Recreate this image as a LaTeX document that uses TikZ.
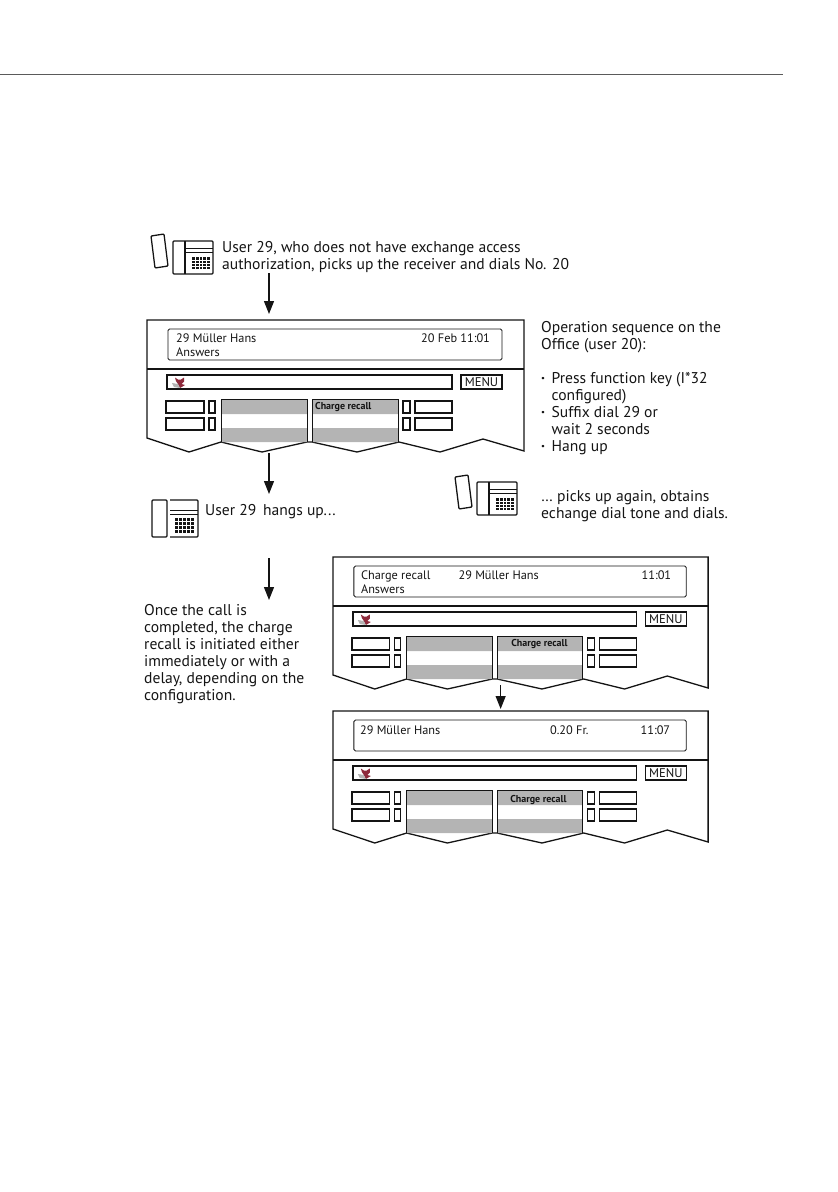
\documentclass[tikz,border=0pt]{standalone}
\usepackage{xcolor}
\usepackage{fontspec}
\setmainfont{PT Sans}
\usetikzlibrary{arrows.meta,positioning}
\definecolor{softgrey}{HTML}{B4B4B4}
\definecolor{inkline}{HTML}{141414}
\definecolor{foxred}{HTML}{8E2A3C}

\tikzset{
    outline/.style={draw=inkline,line width=1.3pt,line join=miter},
    keybox/.style={draw=inkline,line width=1.4pt,fill=white},
    softkey/.style={fill=softgrey},
    arr/.style={-{Triangle[length=13pt,width=10pt]},draw=inkline,line width=1.2pt},
    txt/.style={anchor=north west,inner sep=0pt,align=left,text=inkline,font=\fontsize{15.6}{17}\selectfont},
    disp/.style={anchor=base west,inner sep=0pt,text=inkline,font=\fontsize{12.3}{14}\selectfont},
    softlabel/.style={anchor=base west,inner sep=0pt,text=inkline,font=\fontsize{10}{10}\selectfont\bfseries}
}

% bullet of the key list
\newcommand{\seqdot}{\makebox[10.5pt][l]{\textbf{·}}}

% name, x, y, xscale, texts
\newcommand{\dpanel}[5]{
\begin{scope}[shift={(#2,#3)},xscale=#4]
    \draw[outline] (0,118) -- (0,0) -- (377,0) -- (377,131) -- (336,119) -- (293,132) -- (252,122)
        -- (210,132) -- (165,122) -- (160,122) -- (115,132) -- (74,122) -- (42,132) -- cycle;
    \draw[outline] (0,49) -- (377,49);
    \draw[draw=inkline,line width=.9pt,rounded corners=1.5pt] (21,9) rectangle (355,40);
    \draw[keybox] (20,55) rectangle (305,69);
    \draw[keybox] (314,55) rectangle (355,69);
    \node[inner sep=0pt,text=inkline,font=\fontsize{12.6}{14}\selectfont] (#1-menu) at (334.5,62) {MENU};
    \fill[softkey] (74,79) rectangle (160,94) (74,108) rectangle (160,122);
    \fill[softkey] (165,79) rectangle (251,94) (165,108) rectangle (251,122);
    \draw[inkline,line width=.9pt] (74,122) -- (74,79) -- (160,79) -- (160,122);
    \draw[inkline,line width=.9pt] (165,122) -- (165,79) -- (251,79) -- (251,122);
    \foreach \ky in {81,98} {
        \draw[keybox] (19,\ky) rectangle (57,\ky+12);
        \draw[keybox] (62,\ky) rectangle (68,\ky+12);
        \draw[keybox] (256,\ky) rectangle (263,\ky+12);
        \draw[keybox] (268,\ky) rectangle (305,\ky+12);
    }
    % fox
    \fill[foxred] (28,57.5) -- (31,59.5) -- (34,59.5) -- (37,57.5) -- (37,61.5) -- (34.5,64) -- (38,65) -- (33,68) -- (31,64) -- (29,61) -- cycle;
    \fill[softgrey] (25,63) -- (31,64) -- (33,68) -- (27,67) -- cycle;
    #5
\end{scope}
}

% x, y of the base, with lifted handset
\newcommand{\phonebase}[2]{
\begin{scope}[shift={(#1,#2)}]
    \draw[outline,rounded corners=1pt] (0,0) rectangle (40,33);
    \draw[outline] (12,0) -- (12,33);
    \draw[outline,line width=.9pt] (12,7) -- (40,7) (12,11) -- (40,11);
    \fill[inkline] (19,16) rectangle (37,28);
    \foreach \kx in {22.6,26.2,29.8,33.4} \draw[white,line width=.7pt] (\kx,16) -- (\kx,28);
    \foreach \ky in {19,22,25} \draw[white,line width=.7pt] (19,\ky) -- (37,\ky);
    \draw[outline,rounded corners=1pt] (-22,-5) -- (-9,-7) -- (-5,25) -- (-18,27) -- cycle;
\end{scope}
}

\begin{document}
\begin{tikzpicture}[x=1pt,y=-1pt]
    \useasboundingbox (0,0) rectangle (838,1192);
    \draw[draw=inkline!70,line width=.7pt] (0,74) -- (783,74);

    \phonebase{173}{241}
    \phonebase{477}{482}
    % handset lying on the hook
    \draw[outline,rounded corners=1pt] (152,500) rectangle (167,537);
    \draw[outline,rounded corners=1pt] (170,500) -- (198,500) -- (198,537) -- (170,537);
    \draw[outline,line width=.9pt] (170,510) -- (198,510) (170,514) -- (198,514);
    \fill[inkline] (175,518) rectangle (194,533);
    \foreach \kx in {178.8,182.6,186.4,190.2} \draw[white,line width=.7pt] (\kx,518) -- (\kx,533);
    \foreach \ky in {521.7,525.5,529.2} \draw[white,line width=.7pt] (175,\ky) -- (194,\ky);

    \node[txt] (usertxt) at (222,241) {User 29, who does not have exchange access\\authorization, picks up the receiver and dials No. 20};
    \node[txt] (hangtxt) at (205,504) {User 29\, hangs up...};
    \node[txt] (againtxt) at (541,490) {\dots\ picks up again, obtains\\echange dial tone and dials.};
    \node[txt] (seqtxt) at (541,321) {Operation sequence on the\\Office (user 20):\\[17pt]
        \seqdot Press function key (I*32\\\hspace*{10.5pt}configured)\\
        \seqdot Suffix dial 29 or\\\hspace*{10.5pt}wait 2 seconds\\
        \seqdot Hang up};
    \node[txt] (oncetxt) at (144,604) {Once the call is\\completed, the charge\\recall is initiated either\\immediately or with a\\delay, depending on the\\configuration.};

    \dpanel{pa}{147}{320}{1}{
        \node[disp] (pa-name) at (29,22) {29 Müller Hans};
        \node[disp] (pa-answer) at (29,36) {Answers};
        \node[disp] (pa-date) at (274,22) {20 Feb 11:01};
        \node[softlabel] (pa-soft) at (168,89) {Charge recall};
        \coordinate (pa-in) at (122,-6);
        \coordinate (pa-out) at (122,133);
    }
    \dpanel{pb}{333}{557}{.995}{
        \node[disp] (pb-state) at (28,22) {Charge recall};
        \node[disp] (pb-answer) at (28,36) {Answers};
        \node[disp] (pb-name) at (126,22) {29 Müller Hans};
        \node[disp] (pb-time) at (310,22) {11:01};
        \node[softlabel] (pb-soft) at (179,89) {Charge recall};
        \coordinate (pb-out) at (168.5,128);
    }
    \dpanel{pc}{333}{711}{.995}{
        \node[disp] (pc-name) at (27,23) {29 Müller Hans};
        \node[disp] (pc-cost) at (218,23) {0.20 Fr.};
        \node[disp] (pc-time) at (309,23) {11:07};
        \node[softlabel] (pc-soft) at (178,91) {Charge recall};
        \coordinate (pc-in) at (168.5,-2);
    }

    \coordinate (hangin) at (269,494);
    \coordinate (oncefrom) at (269,558);
    \coordinate (onceto) at (269,600);
    \coordinate (userout) at (269,273);

    \draw[arr] (userout) -- (pa-in);
    \draw[arr] (pa-out) -- (hangin);
    \draw[arr] (oncefrom) -- (onceto);
    \draw[arr] (pb-out) -- (pc-in);
\end{tikzpicture}
\end{document}
